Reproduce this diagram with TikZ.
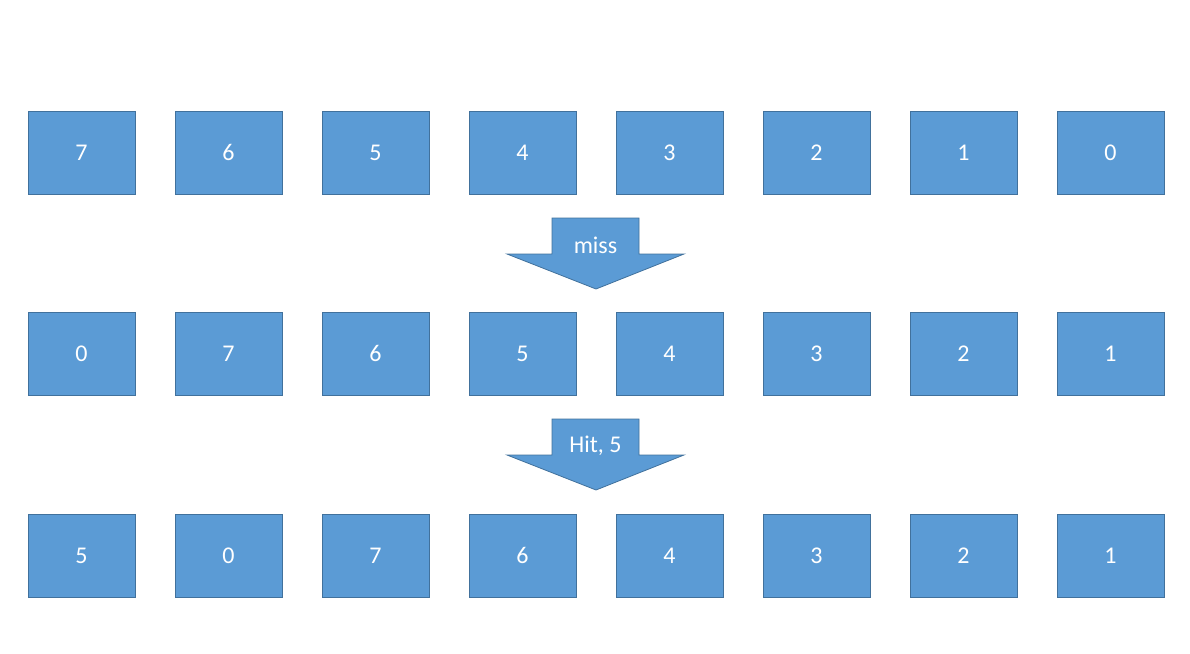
\documentclass[tikz,border=0pt]{standalone}
\usepackage{fontspec}
\setmainfont{Carlito}
\usepackage{xcolor}
\definecolor{boxfill}{HTML}{5B9BD5}
\definecolor{boxline}{HTML}{41719C}
\tikzset{
  cell/.style={draw=boxline, fill=boxfill, line width=0.8pt, minimum width=107pt, minimum height=83pt, inner sep=0pt, text=white, font=\fontsize{24}{28}\selectfont},
  downarrow/.style={draw=boxline, fill=boxfill, line width=0.8pt, line join=miter},
  arrowtext/.style={text=white, font=\fontsize{24}{28}\selectfont}
}
\begin{document}
\begin{tikzpicture}[x=1pt,y=-1pt]
\useasboundingbox (0,0) rectangle (1190,653);

% Row 1
\foreach \v [count=\i from 0] in {7,6,5,4,3,2,1,0}
  \node[cell] (a\i) at (81.5+147*\i,152.5) {\v};

% Row 2
\foreach \v [count=\i from 0] in {0,7,6,5,4,3,2,1}
  \node[cell] (b\i) at (81.5+147*\i,353.5) {\v};

% Row 3
\foreach \v [count=\i from 0] in {5,0,7,6,4,3,2,1}
  \node[cell] (c\i) at (81.5+147*\i,555.5) {\v};

% Arrow 1
\draw[downarrow] (552,218) -- (639,218) -- (639,254) -- (684,254) -- (596,289) -- (507,254) -- (552,254) -- cycle;
\node[arrowtext] (miss) at (595.5,245) {miss};

% Arrow 2
\draw[downarrow] (552,419) -- (639,419) -- (639,455) -- (684,455) -- (596,490) -- (507,455) -- (552,455) -- cycle;
\node[arrowtext] (hit) at (595.5,446) {Hit, 5};
\end{tikzpicture}
\end{document}
